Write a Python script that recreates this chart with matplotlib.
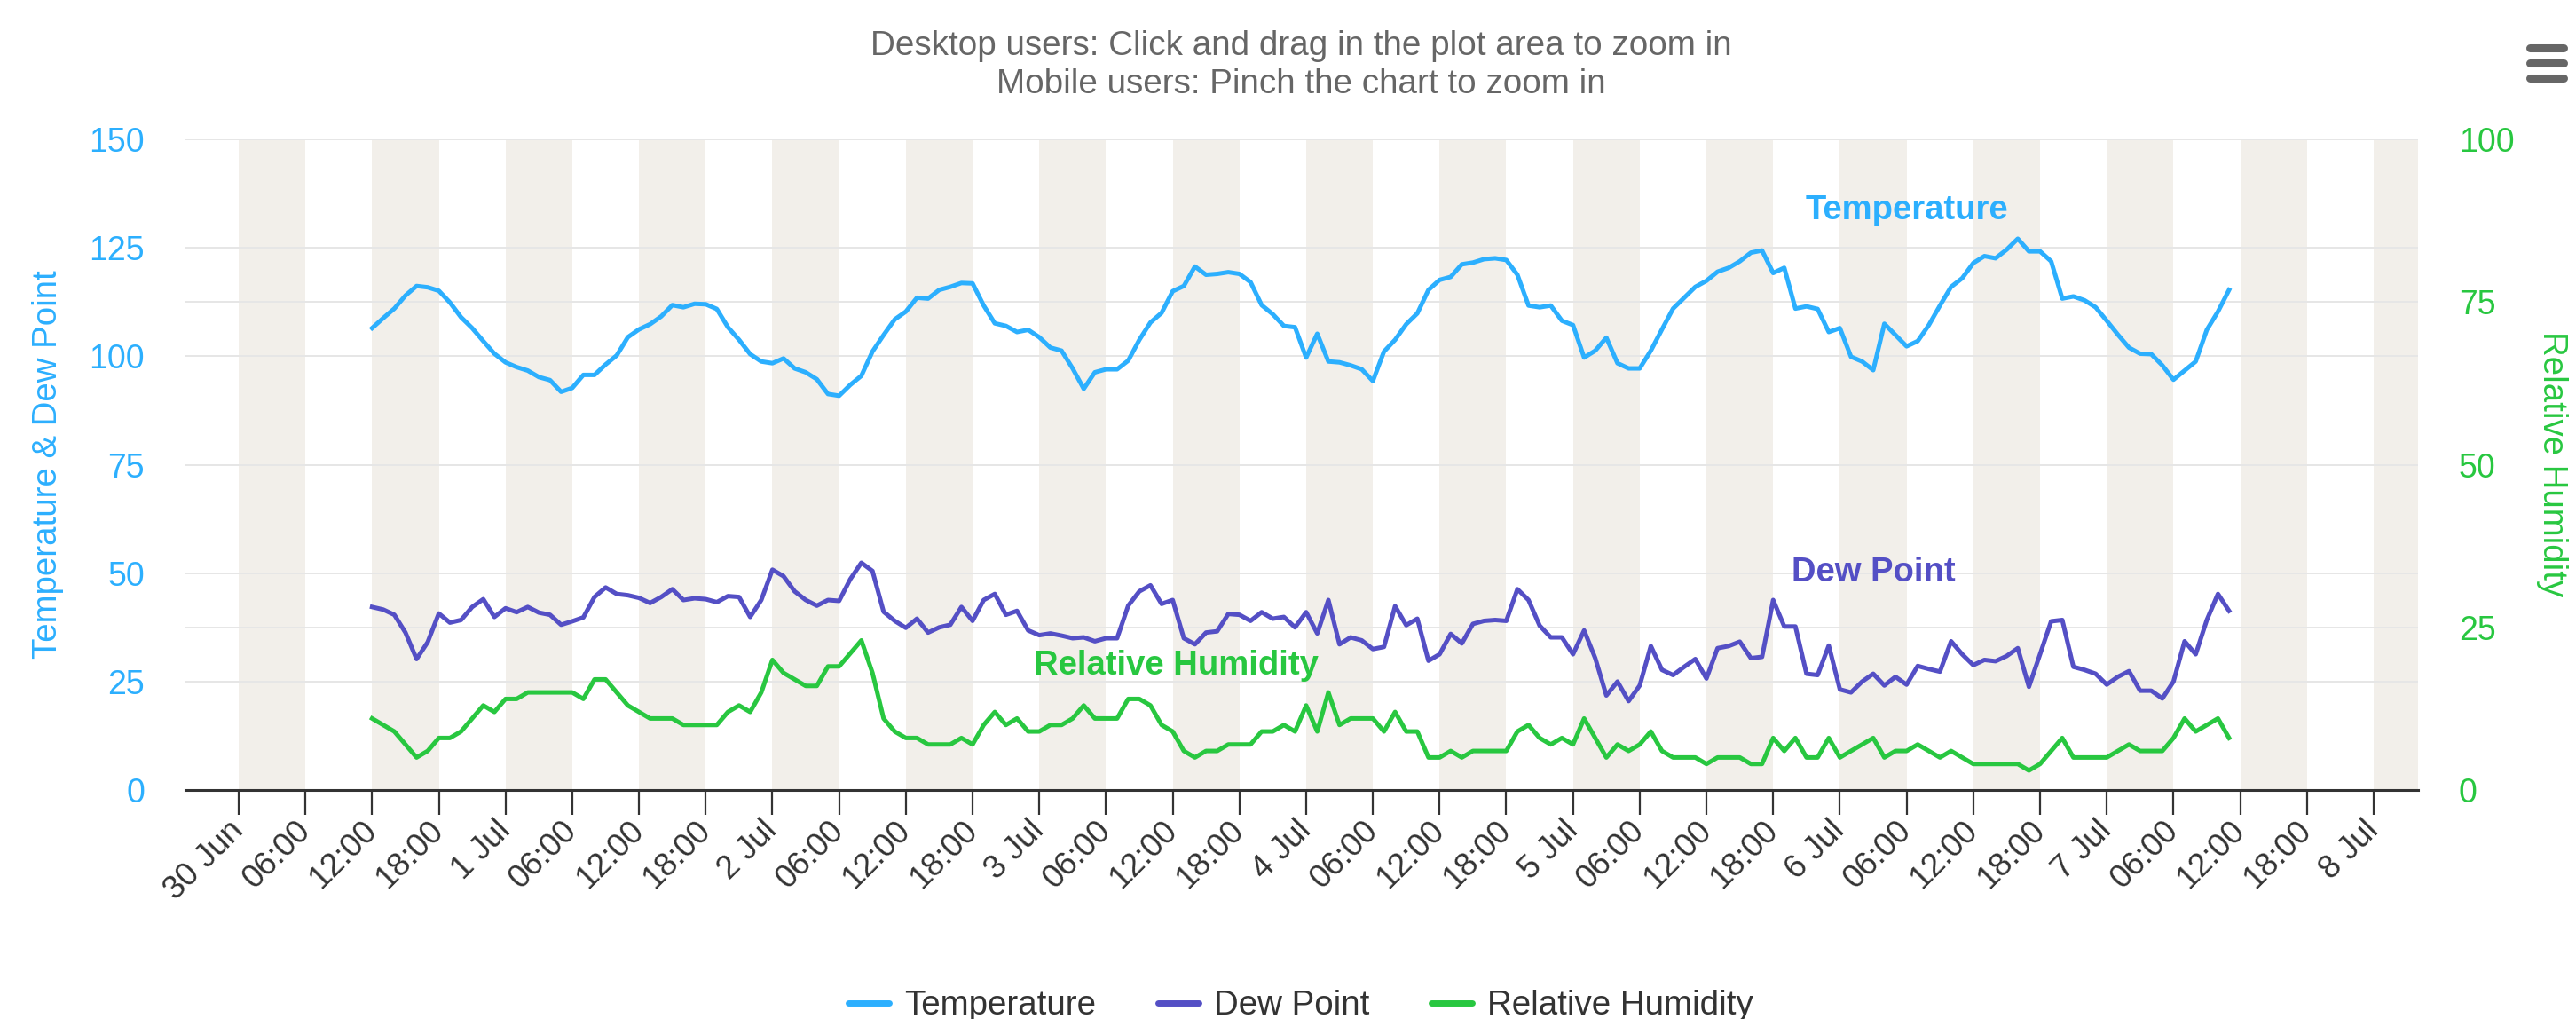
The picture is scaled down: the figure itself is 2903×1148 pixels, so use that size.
import matplotlib
matplotlib.use('Agg')
import matplotlib.pyplot as plt
import matplotlib.dates as mdates
from matplotlib.lines import Line2D
import pandas as pd

plt.rcParams['font.family'] = ['Liberation Sans', 'DejaVu Sans']

# hourly readings from 30 Jun 12:00
start = '2023-06-30 12:00'
temperature = [
    106.5, 108.8, 111.0, 114.0, 116.2, 115.9, 115.1, 112.4, 109.0, 106.5, 103.5, 100.6,
    98.6, 97.5, 96.7, 95.2, 94.5, 91.8, 92.7, 95.7, 95.7, 98.1, 100.2, 104.4,
    106.2, 107.4, 109.2, 111.8, 111.3, 112.1, 112.0, 110.9, 106.7, 103.8, 100.5, 98.8,
    98.4, 99.5, 97.2, 96.3, 94.7, 91.3, 90.9, 93.4, 95.5, 101.1, 104.9, 108.5,
    110.3, 113.5, 113.3, 115.3, 116.0, 116.9, 116.8, 111.7, 107.6, 107.0, 105.6, 106.1,
    104.4, 102.0, 101.3, 97.2, 92.5, 96.3, 97.0, 97.0, 99.0, 103.8, 107.8, 110.0,
    115.0, 116.2, 120.7, 118.8, 119.0, 119.4, 119.0, 117.1, 111.8, 109.7, 107.0, 106.7,
    99.7, 105.2, 98.8, 98.6, 97.9, 97.0, 94.3, 101.1, 103.8, 107.4, 109.9, 115.3,
    117.6, 118.3, 121.2, 121.6, 122.4, 122.6, 122.2, 118.8, 111.7, 111.3, 111.7, 108.2,
    107.2, 99.7, 101.3, 104.3, 98.4, 97.2, 97.2, 101.3, 106.2, 111.0, 113.5, 116.0,
    117.4, 119.5, 120.4, 121.9, 123.9, 124.4, 119.2, 120.4, 111.0, 111.5, 110.9, 105.6,
    106.5, 99.9, 98.8, 96.8, 107.5, 104.9, 102.3, 103.5, 107.2, 111.7, 116.0, 118.0,
    121.5, 123.1, 122.6, 124.6, 127.1, 124.2, 124.2, 121.9, 113.3, 113.8, 112.9, 111.3,
    108.2, 105.0, 102.0, 100.6, 100.5, 97.9, 94.6, 96.7, 98.8, 106.1, 110.3, 115.3,
]
dew_point = [
    42.2, 41.6, 40.4, 36.3, 30.2, 34.1, 40.7, 38.6, 39.2, 42.2, 44.0, 39.9,
    41.9, 41.0, 42.2, 40.9, 40.4, 38.1, 38.9, 39.8, 44.5, 46.7, 45.2, 44.9,
    44.3, 43.1, 44.5, 46.3, 43.8, 44.2, 44.0, 43.3, 44.7, 44.5, 39.9, 43.8,
    50.8, 49.3, 45.8, 43.8, 42.5, 43.8, 43.6, 48.6, 52.4, 50.5, 41.1, 39.0,
    37.4, 39.5, 36.3, 37.5, 38.1, 42.2, 39.0, 43.8, 45.2, 40.4, 41.3, 36.8,
    35.7, 36.1, 35.6, 35.0, 35.2, 34.3, 35.0, 35.0, 42.5, 45.8, 47.2, 42.9,
    43.8, 35.0, 33.6, 36.3, 36.6, 40.6, 40.4, 39.0, 41.0, 39.5, 39.9, 37.5,
    41.0, 36.1, 43.8, 33.6, 35.2, 34.5, 32.5, 33.0, 42.4, 38.0, 39.5, 29.8,
    31.3, 36.0, 33.8, 38.3, 39.0, 39.2, 39.0, 46.3, 43.8, 37.9, 35.2, 35.2,
    31.3, 36.8, 30.4, 21.8, 25.0, 20.5, 24.1, 33.2, 27.7, 26.5, 28.4, 30.2,
    25.7, 32.7, 33.2, 34.2, 30.4, 30.7, 43.8, 37.7, 37.7, 26.8, 26.5, 33.3,
    23.2, 22.5, 25.0, 26.8, 24.1, 26.1, 24.3, 28.6, 27.9, 27.3, 34.3, 31.3,
    28.8, 30.0, 29.7, 30.9, 32.7, 23.8, 31.3, 38.9, 39.2, 28.4, 27.7, 26.8,
    24.3, 26.1, 27.4, 22.9, 22.9, 21.1, 25.0, 34.3, 31.3, 39.2, 45.2, 41.3,
]
humidity = [
    11, 10, 9, 7, 5, 6, 8, 8, 9, 11, 13, 12,
    14, 14, 15, 15, 15, 15, 15, 14, 17, 17, 15, 13,
    12, 11, 11, 11, 10, 10, 10, 10, 12, 13, 12, 15,
    20, 18, 17, 16, 16, 19, 19, 21, 23, 18, 11, 9,
    8, 8, 7, 7, 7, 8, 7, 10, 12, 10, 11, 9,
    9, 10, 10, 11, 13, 11, 11, 11, 14, 14, 13, 10,
    9, 6, 5, 6, 6, 7, 7, 7, 9, 9, 10, 9,
    13, 9, 15, 10, 11, 11, 11, 9, 12, 9, 9, 5,
    5, 6, 5, 6, 6, 6, 6, 9, 10, 8, 7, 8,
    7, 11, 8, 5, 7, 6, 7, 9, 6, 5, 5, 5,
    4, 5, 5, 5, 4, 4, 8, 6, 8, 5, 5, 8,
    5, 6, 7, 8, 5, 6, 6, 7, 6, 5, 6, 5,
    4, 4, 4, 4, 4, 3, 4, 6, 8, 5, 5, 5,
    5, 6, 7, 6, 6, 6, 8, 11, 9, 10, 11, 8,
]
left_ticks = [0, 25, 50, 75, 100, 125, 150]
right_ticks = [0, 25, 50, 75, 100]

blue = '#2caffe'
purple = '#544fc5'
green = '#28c740'

times = pd.date_range(start, periods=len(temperature), freq='h')
x_start = pd.Timestamp('2023-06-29 19:13')
x_end = pd.Timestamp('2023-07-08 04:00')

fig = plt.figure(figsize=(29.03, 11.48), dpi=100)
ax1 = fig.add_axes([0.0720, 0.2247, 0.8667, 0.6385])
ax2 = ax1.twinx()

# day/night style bands
for day in pd.date_range('2023-06-30', '2023-07-08', freq='D'):
    for h0 in (0, 12):
        ax1.axvspan(day + pd.Timedelta(hours=h0), day + pd.Timedelta(hours=h0 + 6),
                    color='#f2efea', lw=0, zorder=0)

# grid lines for both axes
scale = left_ticks[-1] / right_ticks[-1]
for v in left_ticks[1:]:
    ax1.axhline(v, color='#e6e6e6', lw=1.4, zorder=1)
for v in right_ticks[1:]:
    ax1.axhline(v * scale, color='#e6e6e6', lw=1.4, zorder=1)

ax1.plot(times, temperature, color=blue, lw=3.6, solid_joinstyle='round', zorder=3, label='Temperature')
ax1.plot(times, dew_point, color=purple, lw=3.6, solid_joinstyle='round', zorder=3, label='Dew Point')
ax2.plot(times, humidity, color=green, lw=3.6, solid_joinstyle='round', zorder=3, label='Relative Humidity')

ax1.set_xlim(x_start, x_end)
ax1.set_ylim(0, left_ticks[-1])
ax2.set_ylim(0, right_ticks[-1])
ax1.set_yticks(left_ticks)
ax2.set_yticks(right_ticks)

for ax in (ax1, ax2):
    for s in ax.spines.values():
        s.set_visible(False)
ax1.spines['bottom'].set_visible(True)
ax1.spines['bottom'].set_color('#333333')
ax1.spines['bottom'].set_linewidth(2.2)
ax1.spines['bottom'].set_zorder(4)

ax1.tick_params(axis='y', length=0, pad=33, labelsize=27, labelcolor=blue)
ax2.tick_params(axis='y', length=0, pad=33, labelsize=27, labelcolor=green)


def fmt_tick(x, pos):
    d = mdates.num2date(x)
    if d.hour == 0:
        return f'{d.day} {d:%b}'
    return d.strftime('%H:%M')


ax1.xaxis.set_major_locator(mdates.HourLocator(byhour=[0, 6, 12, 18]))
ax1.xaxis.set_major_formatter(plt.FuncFormatter(fmt_tick))
ax1.tick_params(axis='x', length=20, width=1.6, color='#333333', pad=9,
                labelsize=26.5, labelcolor='#333333')
for lbl in ax1.get_xticklabels():
    lbl.set_rotation(45)
    lbl.set_rotation_mode('anchor')
    lbl.set_ha('right')
    lbl.set_va('center')

# series labels inside the plot
ax1.text(pd.Timestamp('2023-07-06 06:00'), 133.7, 'Temperature', color=blue,
         fontsize=27.5, fontweight='bold', ha='center', va='center')
ax1.text(pd.Timestamp('2023-07-06 03:00'), 50.1, 'Dew Point', color=purple,
         fontsize=27.5, fontweight='bold', ha='center', va='center')
ax1.text(pd.Timestamp('2023-07-03 12:20'), 28.6, 'Relative Humidity', color=green,
         fontsize=27.5, fontweight='bold', ha='center', va='center')

fig.text(0.505, 1 - 52 / 1148, 'Desktop users: Click and drag in the plot area to zoom in',
         ha='center', va='center', fontsize=27.8, color='#666666')
fig.text(0.505, 1 - 95 / 1148, 'Mobile users: Pinch the chart to zoom in',
         ha='center', va='center', fontsize=27.8, color='#666666')

fig.text(54 / 2903, 1 - 523 / 1148, 'Temperature & Dew Point', rotation=90,
         ha='center', va='center', fontsize=27.6, color=blue)
fig.text(2876 / 2903, 1 - 523 / 1148, 'Relative Humidity', rotation=270,
         ha='center', va='center', fontsize=27.6, color=green)

# menu icon
for yy in (54, 71, 88):
    fig.add_artist(Line2D([2851 / 2903, 2889 / 2903], [1 - yy / 1148, 1 - yy / 1148],
                          transform=fig.transFigure, color='#666666', lw=6.5,
                          solid_capstyle='round'))

handles = ax1.get_lines() + ax2.get_lines()
handles = [h for h in handles if h.get_label() in ('Temperature', 'Dew Point', 'Relative Humidity')]
leg = fig.legend(handles=[Line2D([], [], color=h.get_color(), lw=5, solid_capstyle='round') for h in handles],
                 labels=[h.get_label() for h in handles],
                 loc='center', bbox_to_anchor=(0.505, 1 - 1133 / 1148), ncol=3, frameon=False,
                 fontsize=27.7, handlelength=1.2, handletextpad=0.45, columnspacing=1.8)
for t in leg.get_texts():
    t.set_color('#333333')

fig.savefig('out.png', dpi=100)
